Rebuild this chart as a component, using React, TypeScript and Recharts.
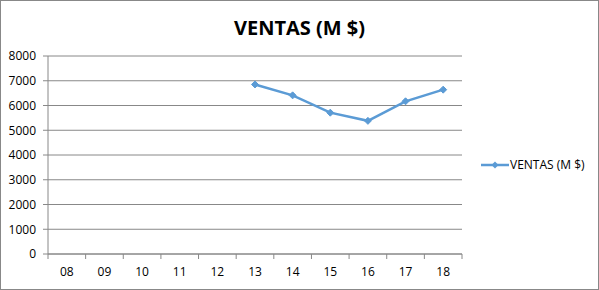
import { LineChart, Line, XAxis, YAxis, CartesianGrid, Legend } from "recharts";

const years = ["08", "09", "10", "11", "12", "13", "14", "15", "16", "17", "18"];
const ventas: (number | null)[] = [null, null, null, null, null, 6850, 6410, 5710, 5380, 6170, 6640];
const yTicks = [0, 1000, 2000, 3000, 4000, 5000, 6000, 7000, 8000];
const seriesName = "VENTAS (M $)";
const title = "VENTAS (M $)";

const data = years.map((y, i) => ({ year: y, ventas: ventas[i] }));

const W = 597;
const H = 288;
const M = { top: 55, right: 136, bottom: 0, left: 0 };
const Y_W = 47;
const STEP = (W - M.right - Y_W) / years.length;
const BLUE = "#5B9BD5";
const GRID = "#888888";
const FONT = "'Open Sans', sans-serif";

function XTick(props: any) {
  const { x, y, payload, index } = props;
  const left = x - STEP / 2;
  return (
    <g>
      <line x1={left} x2={left} y1={y - 5} y2={y} stroke={GRID} />
      {index === years.length - 1 && (
        <line x1={x + STEP / 2} x2={x + STEP / 2} y1={y - 5} y2={y} stroke={GRID} />
      )}
      <text x={x} y={y + 17} textAnchor="middle" fontSize={12} fill="#000" fontFamily={FONT}>
        {payload.value}
      </text>
    </g>
  );
}

function Diamond(props: any) {
  const { cx, cy, value } = props;
  if (value == null || cx == null || cy == null) return <g />;
  const r = 3.5;
  return (
    <polygon
      points={`${cx},${cy - r} ${cx + r},${cy} ${cx},${cy + r} ${cx - r},${cy}`}
      fill={BLUE}
      stroke={BLUE}
    />
  );
}

function LegendContent(props: any) {
  const items = props.payload || [];
  return (
    <svg width={110} height={18}>
      {items.map((it: any, i: number) => (
        <g key={i}>
          <line x1={0} x2={28} y1={9} y2={9} stroke={BLUE} strokeWidth={2.5} />
          <polygon points="14,5.5 17.5,9 14,12.5 10.5,9" fill={BLUE} />
          <text x={29} y={13} fontSize={12} fill="#000" fontFamily={FONT}>
            {it.value}
          </text>
        </g>
      ))}
    </svg>
  );
}

export default function App() {
  return (
    <div
      style={{
        position: "absolute",
        left: 0,
        top: 0,
        width: 599,
        height: 290,
        boxSizing: "border-box",
        border: "1px solid #888888",
        background: "#fff",
      }}
    >
      <div
        style={{
          position: "absolute",
          left: 0,
          top: 17,
          width: W,
          textAlign: "center",
          fontFamily: FONT,
          fontWeight: 700,
          fontSize: 20,
          lineHeight: "20px",
          color: "#000",
        }}
      >
        {title}
      </div>
      <LineChart width={W} height={H} data={data} margin={M}>
        <CartesianGrid vertical={false} stroke={GRID} />
        <XAxis
          dataKey="year"
          scale="band"
          height={35}
          stroke={GRID}
          tickLine={false}
          tickSize={5}
          tickMargin={0}
          tick={<XTick />}
          interval={0}
        />
        <YAxis
          width={Y_W}
          domain={[0, 8000]}
          ticks={yTicks}
          stroke={GRID}
          tickSize={5}
          tickMargin={7}
          tick={{ fontSize: 12, fill: "#000", fontFamily: FONT }}
          interval={0}
        />
        <Legend
          layout="vertical"
          align="center"
          verticalAlign="middle"
          content={<LegendContent />}
          wrapperStyle={{ left: 480, top: 155, width: 110, height: 18 }}
        />
        <Line
          type="linear"
          dataKey="ventas"
          name={seriesName}
          stroke={BLUE}
          strokeWidth={2.5}
          dot={<Diamond />}
          activeDot={false}
          isAnimationActive={false}
        />
      </LineChart>
    </div>
  );
}
